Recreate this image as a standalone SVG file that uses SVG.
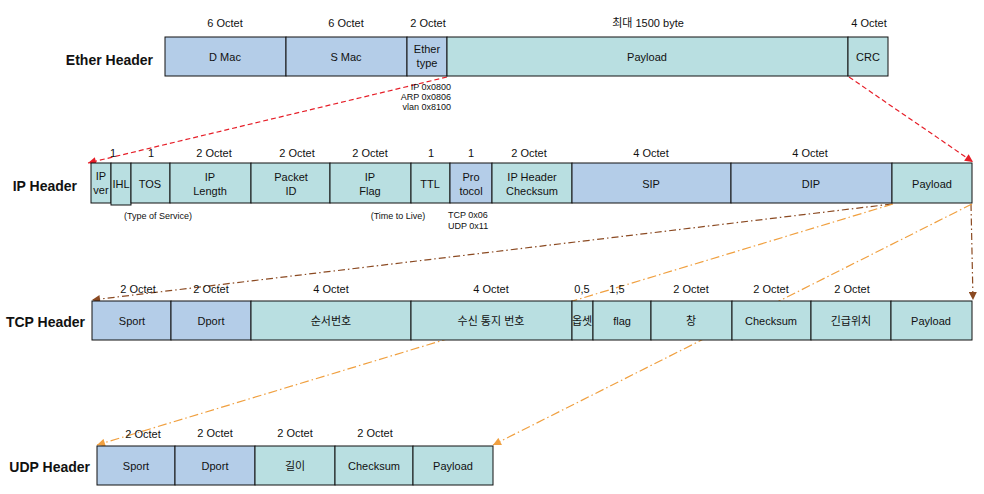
<svg xmlns="http://www.w3.org/2000/svg" width="984" height="494" viewBox="0 0 984 494">
<defs>
<style>
text{font-family:"Liberation Sans","Noto Sans CJK KR",sans-serif;fill:#111}
.b{fill:#b4cde8;stroke:#111;stroke-width:1}
.t{fill:#b9dfe1;stroke:#111;stroke-width:1}
.c{font-size:11px;text-anchor:middle}
.o{font-size:11px;text-anchor:middle}
.n{font-size:9px}
.h{font-size:14px;font-weight:bold;text-anchor:end}
.red{stroke:#e61e28;stroke-width:1.2;fill:none;stroke-dasharray:5 3}
.brn{stroke:#8b4a22;stroke-width:1.2;fill:none;stroke-dasharray:7 3 1.5 3}
.org{stroke:#f0a040;stroke-width:1.2;fill:none;stroke-dasharray:9 3 1.5 3}
</style>
<marker id="mr" viewBox="0 0 10 10" refX="10" refY="5" markerWidth="9" markerHeight="8" markerUnits="userSpaceOnUse" orient="auto"><path d="M0,0L10,5L0,10z" fill="#e61e28"/></marker>
<marker id="mb" viewBox="0 0 10 10" refX="10" refY="5" markerWidth="9" markerHeight="8" markerUnits="userSpaceOnUse" orient="auto"><path d="M0,0L10,5L0,10z" fill="#8b4a22"/></marker>
<marker id="mo" viewBox="0 0 10 10" refX="10" refY="5" markerWidth="9" markerHeight="8" markerUnits="userSpaceOnUse" orient="auto"><path d="M0,0L10,5L0,10z" fill="#f0a040"/></marker>
</defs>
<rect width="984" height="494" fill="#fff"/>
<g id="connectors">
<path class="red" d="M447,77L88,163" marker-end="url(#mr)"/>
<path class="red" d="M849,77L973,162" marker-end="url(#mr)"/>
<path class="brn" d="M892,204L92,300" marker-end="url(#mb)"/>
<path class="brn" d="M971,204L973,300" marker-end="url(#mb)"/>
<path class="org" d="M893,204L97,445" marker-end="url(#mo)"/>
<path class="org" d="M972,204L493,445" marker-end="url(#mo)"/>
</g>
<g id="ether">
<text class="h" x="153" y="65">Ether Header</text>
<g id="e-dmac"><rect class="b" x="165" y="37" width="121" height="39"/><text class="c" x="225" y="61">D Mac</text></g>
<g id="e-smac"><rect class="b" x="286" y="37" width="121" height="39"/><text class="c" x="346" y="61">S Mac</text></g>
<g id="e-type"><rect class="b" x="407" y="37" width="40" height="39"/><text class="c" x="427" y="53">Ether</text><text class="c" x="427" y="67">type</text></g>
<g id="e-payload"><rect class="t" x="447" y="37" width="401" height="39"/><text class="c" x="647" y="61">Payload</text></g>
<g id="e-crc"><rect class="t" x="848" y="37" width="40" height="39"/><text class="c" x="868" y="61">CRC</text></g>
<text class="o" x="225" y="27">6 Octet</text>
<text class="o" x="346" y="27">6 Octet</text>
<text class="o" x="428" y="27">2 Octet</text>
<text class="o" x="648" y="27">최대 1500 byte</text>
<text class="o" x="869" y="27">4 Octet</text>
<text class="n" x="451" y="90" text-anchor="end">IP 0x0800</text>
<text class="n" x="451" y="100" text-anchor="end">ARP 0x0806</text>
<text class="n" x="451" y="110" text-anchor="end">vlan 0x8100</text>
</g>
<g id="ip">
<text class="h" x="77" y="191">IP Header</text>
<g id="i-ver"><rect class="t" x="91" y="163" width="20" height="40"/><text class="c" x="101" y="180">IP</text><text class="c" x="101" y="194">ver</text></g>
<g id="i-ihl"><rect class="t" x="111" y="163" width="20" height="42"/><text class="c" x="121" y="188">IHL</text></g>
<g id="i-tos"><rect class="t" x="131" y="163" width="39" height="40"/><text class="c" x="150" y="188">TOS</text></g>
<g id="i-len"><rect class="t" x="170" y="163" width="81" height="40"/><text class="c" x="210" y="181">IP</text><text class="c" x="210" y="195">Length</text></g>
<g id="i-pid"><rect class="t" x="251" y="163" width="79" height="40"/><text class="c" x="291" y="181">Packet</text><text class="c" x="291" y="195">ID</text></g>
<g id="i-flag"><rect class="t" x="330" y="163" width="81" height="40"/><text class="c" x="370" y="181">IP</text><text class="c" x="370" y="195">Flag</text></g>
<g id="i-ttl"><rect class="t" x="411" y="163" width="39" height="40"/><text class="c" x="430" y="188">TTL</text></g>
<g id="i-proto"><rect class="b" x="450" y="163" width="42" height="40"/><text class="c" x="471" y="181">Pro</text><text class="c" x="471" y="195">tocol</text></g>
<g id="i-chk"><rect class="t" x="492" y="163" width="80" height="40"/><text class="c" x="532" y="181">IP Header</text><text class="c" x="532" y="195">Checksum</text></g>
<g id="i-sip"><rect class="b" x="572" y="163" width="159" height="40"/><text class="c" x="651" y="188">SIP</text></g>
<g id="i-dip"><rect class="b" x="731" y="163" width="161" height="40"/><text class="c" x="811" y="188">DIP</text></g>
<g id="i-payload"><rect class="t" x="892" y="163" width="80" height="40"/><text class="c" x="932" y="188">Payload</text></g>
<text class="o" x="113" y="157">1</text>
<text class="o" x="151" y="157">1</text>
<text class="o" x="214" y="157">2 Octet</text>
<text class="o" x="297" y="157">2 Octet</text>
<text class="o" x="370" y="157">2 Octet</text>
<text class="o" x="431" y="157">1</text>
<text class="o" x="471" y="157">1</text>
<text class="o" x="529" y="157">2 Octet</text>
<text class="o" x="651" y="157">4 Octet</text>
<text class="o" x="810" y="157">4 Octet</text>
<text class="n" x="158" y="219" text-anchor="middle">(Type of Service)</text>
<text class="n" x="398" y="219" text-anchor="middle">(Time to Live)</text>
<text class="n" x="448" y="218">TCP 0x06</text>
<text class="n" x="448" y="229">UDP 0x11</text>
</g>
<g id="tcp">
<text class="h" x="85" y="327">TCP Header</text>
<g id="t-sport"><rect class="b" x="92" y="301" width="79" height="39"/><text class="c" x="132" y="325">Sport</text></g>
<g id="t-dport"><rect class="b" x="171" y="301" width="80" height="39"/><text class="c" x="211" y="325">Dport</text></g>
<g id="t-seq"><rect class="t" x="251" y="301" width="160" height="39"/><text class="c" x="331" y="325">순서번호</text></g>
<g id="t-ack"><rect class="t" x="411" y="301" width="161" height="39"/><text class="c" x="491" y="325">수신 통지 번호</text></g>
<g id="t-off"><rect class="t" x="572" y="301" width="21" height="39"/><text class="c" x="582" y="325">옵셋</text></g>
<g id="t-flag"><rect class="t" x="593" y="301" width="58" height="39"/><text class="c" x="622" y="325">flag</text></g>
<g id="t-win"><rect class="t" x="651" y="301" width="81" height="39"/><text class="c" x="691" y="325">창</text></g>
<g id="t-chk"><rect class="t" x="732" y="301" width="79" height="39"/><text class="c" x="771" y="325">Checksum</text></g>
<g id="t-urg"><rect class="t" x="811" y="301" width="80" height="39"/><text class="c" x="851" y="325">긴급위치</text></g>
<g id="t-payload"><rect class="t" x="891" y="301" width="81" height="39"/><text class="c" x="931" y="325">Payload</text></g>
<text class="o" x="138" y="293">2 Octet</text>
<text class="o" x="211" y="293">2 Octet</text>
<text class="o" x="331" y="293">4 Octet</text>
<text class="o" x="491" y="293">4 Octet</text>
<text class="o" x="582" y="293">0,5</text>
<text class="o" x="617" y="293">1,5</text>
<text class="o" x="691" y="293">2 Octet</text>
<text class="o" x="771" y="293">2 Octet</text>
<text class="o" x="852" y="293">2 Octet</text>
</g>
<g id="udp">
<text class="h" x="90" y="472">UDP Header</text>
<g id="u-sport"><rect class="b" x="97" y="446" width="78" height="39"/><text class="c" x="136" y="470">Sport</text></g>
<g id="u-dport"><rect class="b" x="175" y="446" width="80" height="39"/><text class="c" x="215" y="470">Dport</text></g>
<g id="u-len"><rect class="t" x="255" y="446" width="80" height="39"/><text class="c" x="295" y="470">길이</text></g>
<g id="u-chk"><rect class="t" x="335" y="446" width="78" height="39"/><text class="c" x="374" y="470">Checksum</text></g>
<g id="u-payload"><rect class="t" x="413" y="446" width="80" height="39"/><text class="c" x="453" y="470">Payload</text></g>
<text class="o" x="143" y="438">2 Octet</text>
<text class="o" x="215" y="437">2 Octet</text>
<text class="o" x="295" y="437">2 Octet</text>
<text class="o" x="375" y="437">2 Octet</text>
</g>
</svg>
